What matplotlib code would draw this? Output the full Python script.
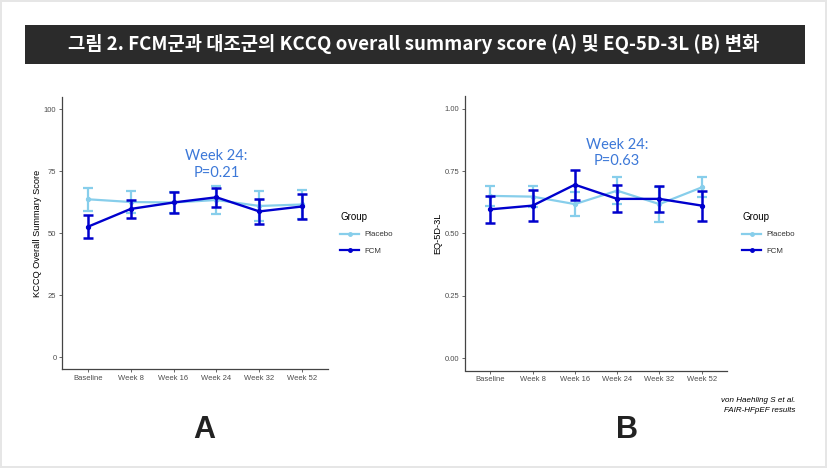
import numpy as np
import matplotlib
matplotlib.use('Agg')
import matplotlib.pyplot as plt
from matplotlib.patches import Rectangle
from matplotlib.lines import Line2D

W, H = 827, 468

weeks = ['Baseline', 'Week 8', 'Week 16', 'Week 24', 'Week 32', 'Week 52']

# A: KCCQ overall summary score (mean, half-width of error bar)
kccq_placebo = [63.6, 62.5, 62.3, 63.3, 60.9, 61.5]
kccq_placebo_err = [4.7, 4.4, 4.3, 5.6, 6.0, 5.9]
kccq_fcm = [52.5, 59.7, 62.3, 64.4, 58.7, 60.7]
kccq_fcm_err = [4.6, 3.8, 4.4, 3.9, 5.0, 4.9]

# B: EQ-5D-3L
eq_placebo = [0.651, 0.648, 0.618, 0.672, 0.618, 0.685]
eq_placebo_err = [0.040, 0.042, 0.047, 0.054, 0.070, 0.040]
eq_fcm = [0.597, 0.612, 0.696, 0.639, 0.639, 0.612]
eq_fcm_err = [0.054, 0.061, 0.060, 0.054, 0.053, 0.060]

c_placebo = '#87CEEB'
c_fcm = '#0000CD'
c_note = '#3C78D8'
plt.rcParams['font.family'] = ['Liberation Sans', 'DejaVu Sans']

fig = plt.figure(figsize=(W/100, H/100), dpi=100)
fig.patch.set_facecolor('#e6e6e6')

def px_rect(x0, y0, x1, y1):
    # pixel box (top-left origin) -> figure fraction
    return [x0/W, 1-y1/H, (x1-x0)/W, (y1-y0)/H]

fig.patches.append(Rectangle((2/W, 2/H), (W-4)/W, (H-4)/H, transform=fig.transFigure,
                             facecolor='white', edgecolor='none', zorder=-3))
fig.patches.append(Rectangle((25/W, 1-64/H), 780/W, 39/H, transform=fig.transFigure,
                             facecolor='#2b2b2b', edgecolor='none', zorder=-2))
fig.text(414/W, 1-44.5/H, '그림 2. FCM군과 대조군의 KCCQ overall summary score (A) 및 EQ-5D-3L (B) 변화',
         color='white', fontsize=13.5, fontweight='bold', ha='center', va='center',
         family=['Noto Sans CJK KR', 'DejaVu Sans'])


def panel(box, plc, plc_e, fcm, fcm_e, ylim, yticks, yticklabels, ylabel, note, note_y, legend_x):
    ax = fig.add_axes(px_rect(*box))
    ax.patch.set_alpha(0)
    x = np.arange(1, len(weeks)+1)
    ax.errorbar(x, plc, yerr=plc_e, color=c_placebo, lw=1.6, marker='o', ms=2.8,
                capsize=3.8, capthick=1.6, elinewidth=1.6, zorder=2)
    ax.errorbar(x, fcm, yerr=fcm_e, color=c_fcm, lw=1.7, marker='o', ms=2.8,
                capsize=3.8, capthick=1.8, elinewidth=1.8, zorder=3)
    ax.set_xlim(0.4, len(weeks)+0.6)
    ax.set_ylim(*ylim)
    ax.set_xticks(x)
    ax.set_xticklabels(weeks)
    ax.set_yticks(yticks)
    ax.set_yticklabels(yticklabels)
    ax.tick_params(labelsize=5.5, colors='#4d4d4d', length=2, width=0.6, pad=2)
    for s in ['top', 'right']:
        ax.spines[s].set_visible(False)
    for s in ['left', 'bottom']:
        ax.spines[s].set_color('#444444')
        ax.spines[s].set_linewidth(0.9)
    ax.set_ylabel(ylabel, fontsize=6.7, color='black', labelpad=1.5)
    ax.text(4, note_y[0], note[0], color=c_note, fontsize=10.5, ha='center', va='center', family='Lato')
    ax.text(4, note_y[1], note[1], color=c_note, fontsize=10.5, ha='center', va='center', family='Lato')
    handles = [Line2D([], [], color=c_placebo, lw=1.6, marker='o', ms=2.5),
               Line2D([], [], color=c_fcm, lw=1.6, marker='o', ms=2.5)]
    leg = ax.legend(handles, ['Placebo', 'FCM'], title='Group', loc='upper left',
                    bbox_to_anchor=(legend_x/W, 1-209/H), bbox_transform=fig.transFigure,
                    frameon=False, fontsize=5.7, title_fontsize=7, handlelength=2.4,
                    labelspacing=1.1, alignment='left', borderaxespad=0, handletextpad=0.6)
    for t in leg.get_texts():
        t.set_color('#333333')
    return ax


axA = panel((62, 96.6, 328, 369.4), kccq_placebo, kccq_placebo_err, kccq_fcm, kccq_fcm_err,
            (-5, 105), [0, 25, 50, 75, 100], ['0', '25', '50', '75', '100'],
            'KCCQ Overall Summary Score', ('Week 24:', 'P=0.21'), (81, 74.3), 337)
axB = panel((465, 96.5, 727, 370.5), eq_placebo, eq_placebo_err, eq_fcm, eq_fcm_err,
            (-0.05, 1.05), [0, 0.25, 0.5, 0.75, 1.0], ['0.00', '0.25', '0.50', '0.75', '1.00'],
            'EQ-5D-3L', ('Week 24:', 'P=0.63'), (0.856, 0.79), 739)

fig.text(204/W, 1-430/H, 'A', fontsize=22, fontweight='bold', ha='center', va='center', color='#222222')
fig.text(627/W, 1-430/H, 'B', fontsize=22, fontweight='bold', ha='center', va='center', color='#222222')
fig.text(795/W, 1-401/H, 'von Haehling S et al.', fontsize=5.8, style='italic', ha='right', va='center')
fig.text(795/W, 1-411/H, 'FAIR-HFpEF results', fontsize=5.8, style='italic', ha='right', va='center')

fig.savefig('out.png', dpi=100, facecolor=fig.get_facecolor())
